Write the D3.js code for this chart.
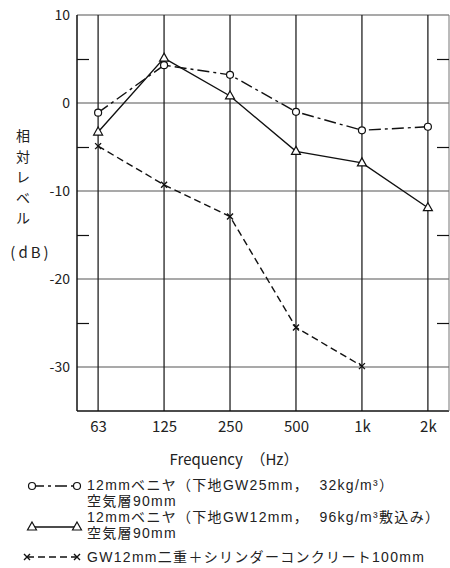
<!DOCTYPE html>
<html>
<head>
<meta charset="utf-8">
<script src="https://cdn.jsdelivr.net/npm/d3@7"></script>
<style>
  body { margin: 0; background: #fff; }
  svg { display: block; }
  text { font-family: "Noto Sans CJK JP", "Noto Sans", sans-serif; fill: #222; }
</style>
</head>
<body>
<svg id="chart"></svg>
<script>
// frequency bands and relative levels (dB)
const freqs = ["63", "125", "250", "500", "1k", "2k"];
const veneerGW25 = [-1.1, 4.3, 3.2, -1.0, -3.1, -2.7];
const veneerGW12 = [-3.3, 5.1, 0.8, -5.5, -6.8, -11.9];
const cylinderConcrete = [-4.9, -9.3, -12.9, -25.5, -29.9, null];

const majorTicks = [10, 0, -10, -20, -30];
const minorTicks = [5, -5, -15, -25];

const legendLabels = [
    ["12mmベニヤ（下地GW25mm，\u00a0\u00a032kg/m³）", "空気層90mm"],
    ["12mmベニヤ（下地GW12mm，\u00a0\u00a096kg/m³敷込み）", "空気層90mm"],
    ["GW12mm二重＋シリンダーコンクリート100mm"]
];

const W = 450, H = 568;
const margin = { top: 15, right: 1, bottom: 157, left: 77 },
    width = W - margin.left - margin.right,
    height = H - margin.top - margin.bottom;

const svg = d3.select("#chart")
    .attr("width", W)
    .attr("height", H);

const g = svg.append("g")
    .attr("transform", `translate(${margin.left},${margin.top})`);

const x = d3.scalePoint()
    .domain(freqs)
    .range([0, width])
    .padding(0.32);

const y = d3.scaleLinear()
    .domain([-35, 10])
    .range([height, 0]);

// horizontal grid lines
g.append("g")
    .selectAll("line")
    .data(majorTicks)
    .enter()
    .append("line")
    .attr("x1", 0)
    .attr("x2", width)
    .attr("y1", d => y(d))
    .attr("y2", d => y(d))
    .style("stroke", "#555")
    .style("stroke-width", 1.1);

// vertical lines at each band
g.append("g")
    .selectAll("line")
    .data(freqs)
    .enter()
    .append("line")
    .attr("x1", d => x(d))
    .attr("x2", d => x(d))
    .attr("y1", 0)
    .attr("y2", height)
    .style("stroke", "#222")
    .style("stroke-width", 1.3);

// frame
g.append("line").attr("x1", 0).attr("x2", 0).attr("y1", 0).attr("y2", height)
    .style("stroke", "#111").style("stroke-width", 1.5);
g.append("line").attr("x1", 0).attr("x2", width).attr("y1", height).attr("y2", height)
    .style("stroke", "#111").style("stroke-width", 1.5);
g.append("line").attr("x1", width).attr("x2", width).attr("y1", 0).attr("y2", height)
    .style("stroke", "#777").style("stroke-width", 1);

// left axis labels (plain hyphen like the original)
const yAxis = g.append("g")
    .call(d3.axisLeft(y).tickValues(majorTicks).tickSize(0).tickPadding(7)
        .tickFormat(d => String(d)));
yAxis.select(".domain").remove();
yAxis.selectAll("text")
    .style("font-size", "14px")
    .style("font-family", "'Noto Sans CJK JP', sans-serif")
    .attr("fill", "#222");

// minor ticks, left and right
const minorL = g.append("g")
    .call(d3.axisRight(y).tickValues(minorTicks).tickSize(12).tickFormat(""));
minorL.select(".domain").remove();
minorL.selectAll("line").style("stroke", "#111").style("stroke-width", 1.2);

const minorR = g.append("g")
    .attr("transform", `translate(${width},0)`)
    .call(d3.axisLeft(y).tickValues(minorTicks).tickSize(12).tickFormat(""));
minorR.select(".domain").remove();
minorR.selectAll("line").style("stroke", "#111").style("stroke-width", 1.2);

// bottom axis labels
const xAxis = g.append("g")
    .attr("transform", `translate(0,${height})`)
    .call(d3.axisBottom(x).tickSize(0).tickPadding(10));
xAxis.select(".domain").remove();
xAxis.selectAll("text")
    .style("font-size", "15px")
    .style("font-family", "'Noto Sans CJK JP', sans-serif")
    .attr("fill", "#222");

// axis titles
svg.append("text")
    .attr("x", 234)
    .attr("y", 465)
    .attr("text-anchor", "middle")
    .style("font-size", "15px")
    .text("Frequency　（Hz）");

const yTitle = "相対レベル".split("");
svg.append("g")
    .selectAll("text")
    .data(yTitle)
    .enter()
    .append("text")
    .attr("x", 23)
    .attr("y", (d, i) => 141 + i * 20.5)
    .attr("text-anchor", "middle")
    .style("font-size", "14px")
    .text(d => d);

svg.append("text")
    .attr("x", 31)
    .attr("y", 258)
    .attr("text-anchor", "middle")
    .style("font-size", "15px")
    .style("letter-spacing", "3px")
    .text("(dB)");

// series
const series = [
    { values: veneerGW25, dash: "12 4 3 4", marker: "circle" },
    { values: veneerGW12, dash: null, marker: "triangle" },
    { values: cylinderConcrete, dash: "7 4", marker: "cross" }
];

const line = d3.line()
    .defined(d => d.v !== null)
    .x(d => x(d.f))
    .y(d => y(d.v));

function drawMarker(sel, type) {
    if (type === "circle") {
        sel.append("circle").attr("r", 3.5)
            .style("fill", "#fff").style("stroke", "#111").style("stroke-width", 1.2);
    } else if (type === "triangle") {
        sel.append("path").attr("d", "M0,-5L4.5,3L-4.5,3Z")
            .style("fill", "#fff").style("stroke", "#111").style("stroke-width", 1.2);
    } else {
        sel.append("path").attr("d", "M-3,-3L3,3M-3,3L3,-3")
            .style("fill", "none").style("stroke", "#111").style("stroke-width", 1.4);
    }
}

series.forEach(s => {
    const pts = freqs.map((f, i) => ({ f: f, v: s.values[i] }));
    g.append("path")
        .datum(pts)
        .attr("d", line)
        .style("fill", "none")
        .style("stroke", "#111")
        .style("stroke-width", 1.4)
        .style("stroke-dasharray", s.dash);
    g.append("g")
        .selectAll("g")
        .data(pts.filter(d => d.v !== null))
        .enter()
        .append("g")
        .attr("transform", d => `translate(${x(d.f)},${y(d.v)})`)
        .each(function () { drawMarker(d3.select(this), s.marker); });
});

// legend
const legendRows = [
    { x1: 32, y: 486, textY: [490, 506] },
    { x1: 32, y: 527, textY: [522, 538] },
    { x1: 27, y: 557, textY: [562] }
];

legendRows.forEach((r, i) => {
    const lg = svg.append("g");
    lg.append("line")
        .attr("x1", r.x1).attr("x2", 77)
        .attr("y1", r.y).attr("y2", r.y)
        .style("stroke", "#111")
        .style("stroke-width", 1.3)
        .style("stroke-dasharray", series[i].dash);
    [r.x1, 77].forEach(px => {
        lg.append("g")
            .attr("transform", `translate(${px},${r.y})`)
            .call(sel => drawMarker(sel, series[i].marker));
    });
    legendLabels[i].forEach((t, j) => {
        lg.append("text")
            .attr("x", 87)
            .attr("y", r.textY[j])
            .style("font-family", "'Liberation Sans', 'Noto Sans CJK JP', sans-serif")
            .style("font-size", "14px")
            .style("letter-spacing", "1.3px")
            .text(t);
    });
});
</script>
</body>
</html>
